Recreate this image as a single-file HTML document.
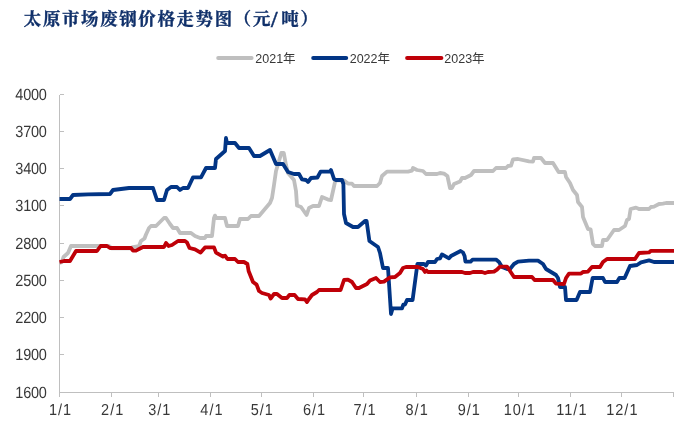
<!DOCTYPE html>
<html lang="zh-CN"><head><meta charset="utf-8"><title>太原市场废钢价格走势图</title>
<style>
html,body{margin:0;padding:0;background:#fff;}
body{width:681px;height:427px;overflow:hidden;position:relative;}
svg{display:block;position:absolute;left:0;top:0;}
.t{font-family:"Liberation Serif","Noto Serif CJK SC",serif;font-weight:700;font-size:17.4px;fill:#10306a;stroke:#10306a;stroke-width:0.35px;letter-spacing:1.7px;}
.ax{font-family:"Liberation Sans","Noto Sans CJK SC",sans-serif;font-size:14.5px;fill:#383838;text-rendering:geometricPrecision;}
.ay{letter-spacing:-0.25px;}
.axx{letter-spacing:1px;}
.lg{font-family:"Liberation Sans","Noto Sans CJK SC",sans-serif;font-size:12.5px;fill:#383838;}
.s{fill:none;stroke-width:3.8;stroke-linejoin:round;stroke-linecap:butt;}
</style></head><body>
<svg width="681" height="427" viewBox="0 0 681 427">
<rect width="681" height="427" fill="#fff"/>
<text class="t" x="23.8" y="25.3">太原市场废钢价格走势图（元<tspan font-size="23.5" dx="-1" dy="1.6">/</tspan><tspan dx="2.1" dy="-1.6">吨）</tspan></text>

<line x1="218.2" y1="57.9" x2="251.6" y2="57.9" stroke="#bfbfbf" stroke-width="4" stroke-linecap="round"/>
<text class="lg" x="255.3" y="63">2021年</text>
<line x1="313.2" y1="57.9" x2="346.2" y2="57.9" stroke="#023585" stroke-width="4" stroke-linecap="round"/>
<text class="lg" x="349.7" y="63">2022年</text>
<line x1="407.1" y1="57.9" x2="441.4" y2="57.9" stroke="#bf0008" stroke-width="4" stroke-linecap="round"/>
<text class="lg" x="444.3" y="63">2023年</text>
<g stroke="#bfbfbf" stroke-width="1" fill="none" shape-rendering="crispEdges">
<line x1="59.5" y1="94.5" x2="59.5" y2="392.5"/>
<line x1="59.5" y1="392.5" x2="673.5" y2="392.5"/>
<line x1="59.5" y1="94.50" x2="64.0" y2="94.50"/>
<line x1="59.5" y1="131.50" x2="64.0" y2="131.50"/>
<line x1="59.5" y1="168.50" x2="64.0" y2="168.50"/>
<line x1="59.5" y1="205.50" x2="64.0" y2="205.50"/>
<line x1="59.5" y1="243.50" x2="64.0" y2="243.50"/>
<line x1="59.5" y1="280.50" x2="64.0" y2="280.50"/>
<line x1="59.5" y1="317.50" x2="64.0" y2="317.50"/>
<line x1="59.5" y1="354.50" x2="64.0" y2="354.50"/>
<line x1="59.5" y1="392.50" x2="64.0" y2="392.50"/>
<line x1="59.50" y1="392.5" x2="59.50" y2="396.5"/>
<line x1="111.65" y1="392.5" x2="111.65" y2="396.5"/>
<line x1="158.75" y1="392.5" x2="158.75" y2="396.5"/>
<line x1="210.90" y1="392.5" x2="210.90" y2="396.5"/>
<line x1="261.36" y1="392.5" x2="261.36" y2="396.5"/>
<line x1="313.51" y1="392.5" x2="313.51" y2="396.5"/>
<line x1="363.98" y1="392.5" x2="363.98" y2="396.5"/>
<line x1="416.12" y1="392.5" x2="416.12" y2="396.5"/>
<line x1="468.27" y1="392.5" x2="468.27" y2="396.5"/>
<line x1="518.74" y1="392.5" x2="518.74" y2="396.5"/>
<line x1="570.89" y1="392.5" x2="570.89" y2="396.5"/>
<line x1="621.35" y1="392.5" x2="621.35" y2="396.5"/>
<line x1="673.50" y1="392.5" x2="673.50" y2="396.5"/>
</g>
<text class="ax ay" transform="translate(46.6,99.90) scale(1,1.12)" text-anchor="end">4000</text>
<text class="ax ay" transform="translate(46.6,136.90) scale(1,1.12)" text-anchor="end">3700</text>
<text class="ax ay" transform="translate(46.6,173.90) scale(1,1.12)" text-anchor="end">3400</text>
<text class="ax ay" transform="translate(46.6,210.90) scale(1,1.12)" text-anchor="end">3100</text>
<text class="ax ay" transform="translate(46.6,248.90) scale(1,1.12)" text-anchor="end">2800</text>
<text class="ax ay" transform="translate(46.6,285.90) scale(1,1.12)" text-anchor="end">2500</text>
<text class="ax ay" transform="translate(46.6,322.90) scale(1,1.12)" text-anchor="end">2200</text>
<text class="ax ay" transform="translate(46.6,359.90) scale(1,1.12)" text-anchor="end">1900</text>
<text class="ax ay" transform="translate(46.6,397.90) scale(1,1.12)" text-anchor="end">1600</text>
<text class="ax axx" transform="translate(60.50,414.5) scale(1,1.1)" text-anchor="middle">1/1</text>
<text class="ax axx" transform="translate(112.65,414.5) scale(1,1.1)" text-anchor="middle">2/1</text>
<text class="ax axx" transform="translate(159.75,414.5) scale(1,1.1)" text-anchor="middle">3/1</text>
<text class="ax axx" transform="translate(211.90,414.5) scale(1,1.1)" text-anchor="middle">4/1</text>
<text class="ax axx" transform="translate(262.36,414.5) scale(1,1.1)" text-anchor="middle">5/1</text>
<text class="ax axx" transform="translate(314.51,414.5) scale(1,1.1)" text-anchor="middle">6/1</text>
<text class="ax axx" transform="translate(364.98,414.5) scale(1,1.1)" text-anchor="middle">7/1</text>
<text class="ax axx" transform="translate(417.12,414.5) scale(1,1.1)" text-anchor="middle">8/1</text>
<text class="ax axx" transform="translate(469.27,414.5) scale(1,1.1)" text-anchor="middle">9/1</text>
<text class="ax axx" transform="translate(519.74,414.5) scale(1,1.1)" text-anchor="middle">10/1</text>
<text class="ax axx" transform="translate(571.89,414.5) scale(1,1.1)" text-anchor="middle">11/1</text>
<text class="ax axx" transform="translate(622.35,414.5) scale(1,1.1)" text-anchor="middle">12/1</text>
<polyline class="s" stroke="#bfbfbf" points="59.5,263 62,262 63.5,257 68,253 71,246 109,246 112,248.4 130,248.4 133,247 139,246 141,241 144.5,238.5 146,234.5 149,228 151,226 156,226 164,218 166,218 170,224 173,228 177,228 180,233 191,233 195,236 200,238 205,238 206,236 212,236 214,218 215,215.6 216,218 225,218 227,226 238,226 240,219 248,219 251,216 259,216 270,203 272,198 274,185 276,171 279,161 281.3,153 283.8,153 286,165 288,173 294,180 296,191 297,205.5 301,207 306.6,215 309,208 313,206 319,206 322,197 328,199.6 331,200 335,182 337,180 344,180.6 348,183.6 352,183.6 354,186 377,186 380,183 382,176 387,171.6 408,171.6 412,170.6 413,168 417,170 423,171 426,174 437,174 440,173 444,173.6 447.4,176 450,188 452,188 454,184 460,181.6 462,178 465,178 471,175 474,171 493,171 496,168 506,168 508,166 511,165.6 513,159.4 518,159 529,161.4 533,161.6 534,158 541,158 545,163 553,163 558.6,172 565,172 566,177 570,183 573,190 577,195 578,202 582,207 583,217 588,229 590.6,229.4 593,244 595,246 602,246 603,240 607,240 614,230 619,230 625,226 627,220 629,219 630.6,209 636,207.6 639,209 649,209 651,207 654,206.6 659,204 663,203.6 666,203 674,203"/>
<polyline class="s" stroke="#023585" points="59.5,199 70,199 73,195 88,194.4 110,194 113,190 129,188 153,188 157,200 164,200 167,190 171,187 177,187 180,190 183,188 188,188 193,177.4 201,177.4 206,168 215,168 216,159 225,151 226,138 227,143 235,143 239,148 249,148 254,156 260,156 270,150 276,164 283,164 288,172 294,174 299,174 302,179.4 306,180 308,182 311,178 317.4,177.5 320.6,171.6 330,171.6 331,170 334,179 336,180 342,180 343.4,184 344,214 346,223 353,227 358,227 365,221 366.6,221 369.4,241 378,247 380,253 383,268 388,268 391,314 392.6,308.4 402,308.4 403.3,304.6 405,304.6 407,300 412.6,300 417.4,264 424,264 426,265.6 428,262 435,262 437,259 440,258.4 442,254.4 449,258.4 451,256 460.6,251 463,252.5 464.6,256 465.4,261.6 470.6,261.6 472.6,259.6 496,259.6 499,262 502,267 507,269 510,269 514,264 518,261.6 529,260.6 538,260.6 543,264 546,269 551,272 556,275 558,278 560,287 565,287 566,300 576.6,300 580,292 590,292 592.6,278 603,278 605,282 617,282 619.4,278 624.6,278 630,266 637,265 641,262.4 649,260.4 654,262 674,262"/>
<polyline class="s" stroke="#bf0008" points="59.5,262 64,261 70,261 76,251 97,251 100.6,246 107,246 110,248 131,248 133,250.6 136,250.6 143,247 164,247 166,243 168.6,246 172,245 178,241 185,241 187,242.5 189.5,248 195,249.4 200.6,252.6 205,247.4 214,247.4 216,252.6 223,256.6 225,255.6 227.4,259 235,259 238,262 244,262 247.4,264 248.6,271 253,282 256.6,284.6 259,291 262,293 269,295 270.6,298.6 274,294 277,294 282,298 287,298 289.4,295 294.6,295 298,299 305,299.4 307,302 309,299 312,295 317,292 319,290 340.6,290 344,280 348,279.6 352,282 356,288 359,288 367,284 370,280.6 376,278 380,282 384,281.6 390,277.4 395,277 400,273 403,268 406,267 418,267 423,269 425,272 426.5,270.5 428,272 462,272 465,273 470,273 473,272 482,272 485,273 488,272 494,271.6 497,269.6 500,266.6 507,266.6 510,271 514,277 532,277 534.6,280 553,280 556,283.6 564,284 566,278 569,273.6 581,273.6 583,272 588,271.6 592,267 600,267 603,262 607,259 635,259 639,253 649,252.4 651,250.8 674,250.8"/>
</svg></body></html>
